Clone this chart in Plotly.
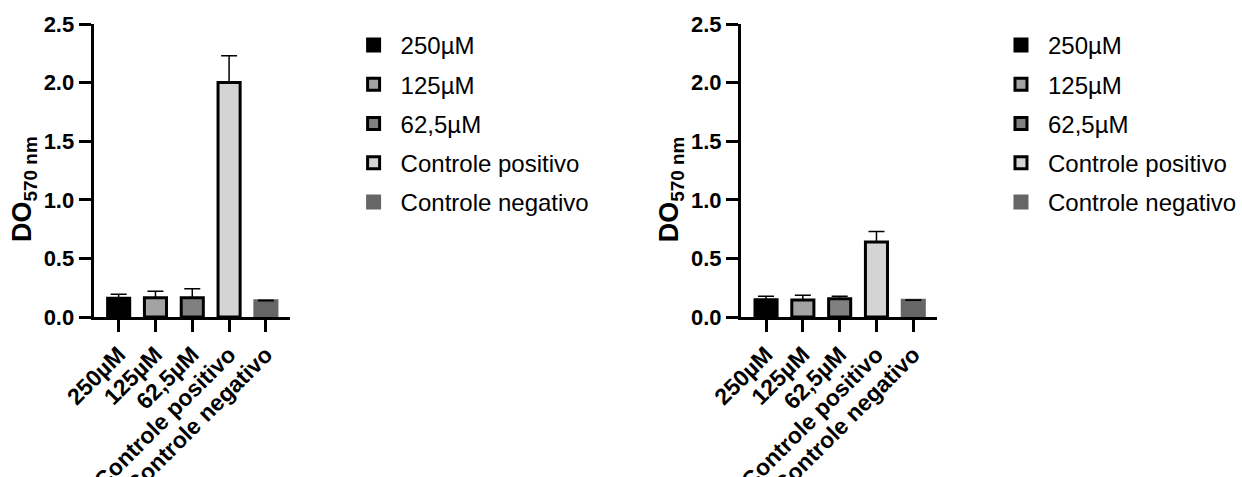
import plotly.graph_objects as go

categories = ["250µM", "125µM", "62,5µM", "Controle positivo", "Controle negativo"]
fills = ["#000000", "#a3a3a3", "#808080", "#d4d4d4", "#666666"]
borders = ["#000000", "#000000", "#000000", "#000000", "#666666"]

left_means = [0.16, 0.165, 0.165, 2.00, 0.138]
left_errs = [0.035, 0.055, 0.075, 0.23, 0.005]
right_means = [0.148, 0.145, 0.155, 0.64, 0.142]
right_errs = [0.028, 0.04, 0.022, 0.09, 0.004]

yticks = [0.0, 0.5, 1.0, 1.5, 2.0, 2.5]
ytick_text = ["0.0", "0.5", "1.0", "1.5", "2.0", "2.5"]
ytitle_text = "<b>DO<sub>570 nm</sub></b>"

W, H = 1242, 477
fig = go.Figure()

panels = [
    ("x", "y", left_means, left_errs, "legend", "L"),
    ("x2", "y2", right_means, right_errs, "legend2", "R"),
]
for xa, ya, means, errs, leg, tag in panels:
    for i, cat in enumerate(categories):
        fig.add_trace(go.Bar(
            x=[cat], y=[means[i]], name=cat,
            xaxis=xa, yaxis=ya, legend=leg, legendgroup=tag + str(i),
            width=0.6,
            marker=dict(color=fills[i], line=dict(color=borders[i], width=3)),
            error_y=dict(type="data", symmetric=False, array=[errs[i]],
                         arrayminus=[0], color="#000000", thickness=1.5, width=8),
        ))

def px_x(p):
    return p / W

def px_y(p):
    return 1 - p / H

ydom = [px_y(317), px_y(24)]
axis_common = dict(showgrid=False, zeroline=False, showline=True, linecolor="#000000",
                   linewidth=3, ticks="outside", ticklen=12, tickwidth=3, tickcolor="#000000",
                   automargin=False)
ytickfont = dict(family="Liberation Sans", size=22, color="#000000")
xtickfont = dict(family="Liberation Sans", size=23, color="#000000")
xtick_text = ["<b>" + c + "</b>" for c in categories]
ytick_bold = ["<b>" + t + "</b>" for t in ytick_text]
legfont = dict(family="Liberation Sans", size=24, color="#000000")

fig.update_layout(
    width=W, height=H,
    margin=dict(l=0, r=0, t=0, b=0),
    paper_bgcolor="white", plot_bgcolor="white",
    barmode="overlay",
    showlegend=True,
    font=dict(family="Liberation Sans", color="#000000"),
    xaxis=dict(domain=[px_x(94), px_x(291)], range=[-0.68, 4.65], anchor="y",
               tickangle=-45, tickfont=xtickfont, tickvals=categories, ticktext=xtick_text,
               **axis_common),
    yaxis=dict(domain=ydom, range=[0, 2.5], anchor="x", tickvals=yticks, ticktext=ytick_bold,
               tickfont=ytickfont, **axis_common),
    xaxis2=dict(domain=[px_x(744), px_x(941)], range=[-0.68, 4.65], anchor="y2",
                tickangle=-45, tickfont=xtickfont, tickvals=categories, ticktext=xtick_text,
                **axis_common),
    yaxis2=dict(domain=ydom, range=[0, 2.5], anchor="x2", tickvals=yticks, ticktext=ytick_bold,
                tickfont=ytickfont, **axis_common),
    legend=dict(x=px_x(348), y=px_y(23), xanchor="left", yanchor="top",
                font=legfont, tracegroupgap=5, itemwidth=44,
                bgcolor="rgba(0,0,0,0)"),
    legend2=dict(x=px_x(998), y=px_y(23), xanchor="left", yanchor="top",
                 font=legfont, tracegroupgap=5, itemwidth=44,
                 bgcolor="rgba(0,0,0,0)"),
)

for xc in (24, 674):
    fig.add_annotation(x=px_x(xc), y=px_y(189), xref="paper", yref="paper",
                       text=ytitle_text, textangle=-90, showarrow=False,
                       xanchor="center", yanchor="middle",
                       font=dict(family="Liberation Sans", size=27, color="#000000"))

fig.write_html("out.html")
